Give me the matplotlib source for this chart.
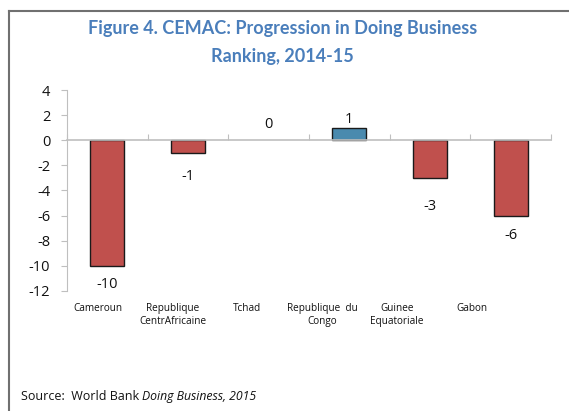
import matplotlib
matplotlib.use("Agg")
import matplotlib.pyplot as plt
from matplotlib.lines import Line2D

# Data
countries = ["Cameroun", "Republique\nCentrAfricaine", "Tchad",
             "Republique  du\nCongo", "Guinee\nEquatoriale", "Gabon"]
changes = [-10, -1, 0, 1, -3, -6]
yticks = [4, 2, 0, -2, -4, -6, -8, -10, -12]

# Label offsets from bar end (pixels)
label_offsets = [-19, -24, 16, 8, -29, -20]

RED = "#C0504D"
BLUE = "#4A8AAE"
TITLE = "#4A7EBB"
GRID = "#BFBFBF"

fig = plt.figure(figsize=(5.69, 4.11), dpi=100)
ax = fig.add_axes([0.1178, 0.292, 0.8506, 0.489])

xs = list(range(len(changes)))
colors = [BLUE if v > 0 else RED for v in changes]
widths = [1.0 if v != 0 else 0.0 for v in changes]
ax.bar(xs, changes, width=0.42, color=colors, edgecolor="#1a1a1a",
       linewidth=widths, zorder=2)

for x, v, off in zip(xs, changes, label_offsets):
    ax.annotate(f"{v}", xy=(x, v), xytext=(0, off * 0.72),
                textcoords="offset points", ha="center", va="center",
                fontsize=10.5, family="Open Sans", color="#111111")

ax.set_xlim(-0.5, 5.5)
ax.set_ylim(-12, 4)
ax.set_yticks(yticks)
ax.set_yticklabels([str(t) for t in yticks], family="Open Sans",
                   fontsize=10.5, color="#111111")

for s in ["top", "right"]:
    ax.spines[s].set_visible(False)
ax.spines["left"].set_color(GRID)
ax.spines["bottom"].set_color(GRID)
ax.spines["bottom"].set_position(("data", 0))
ax.spines["bottom"].set_zorder(3)
ax.spines["bottom"].set_linewidth(1.2)
ax.tick_params(axis="y", length=4, color=GRID, pad=8)
ax.set_xticks([i - 0.5 for i in range(len(changes) + 1)])
ax.set_xticklabels([])
ax.tick_params(axis="x", direction="in", length=4, color=GRID)

# Category labels below plot area
for i, name in enumerate(countries):
    ax.text(-0.12 + 0.928 * i, -0.058, name, transform=ax.get_xaxis_transform(),
            ha="center", va="top", fontsize=7.2, family="Open Sans",
            color="#111111", linespacing=1.35)

fig.text(0.496, 0.896, "Figure 4. CEMAC: Progression in Doing Business\nRanking, 2014-15",
         ha="center", va="center", fontsize=13.0, fontweight="bold",
         family="Lato", color=TITLE, linespacing=1.75)

fig.text(0.037, 0.036, "Source:  World Bank ", ha="left", va="center",
         fontsize=9, family="Open Sans", color="#111111")
fig.text(0.249, 0.036, "Doing Business, 2015", ha="left", va="center",
         fontsize=8.8, family="Open Sans", style="italic", color="#111111")

# Outer frame (left and top edges)
fig.add_artist(Line2D([0.0158, 0.0158], [0.0, 0.973], transform=fig.transFigure,
                      color="#707070", lw=1.5))
fig.add_artist(Line2D([0.0158, 1.0], [0.973, 0.973], transform=fig.transFigure,
                      color="#707070", lw=1.5))

fig.savefig("out.png", dpi=100, facecolor="white")
